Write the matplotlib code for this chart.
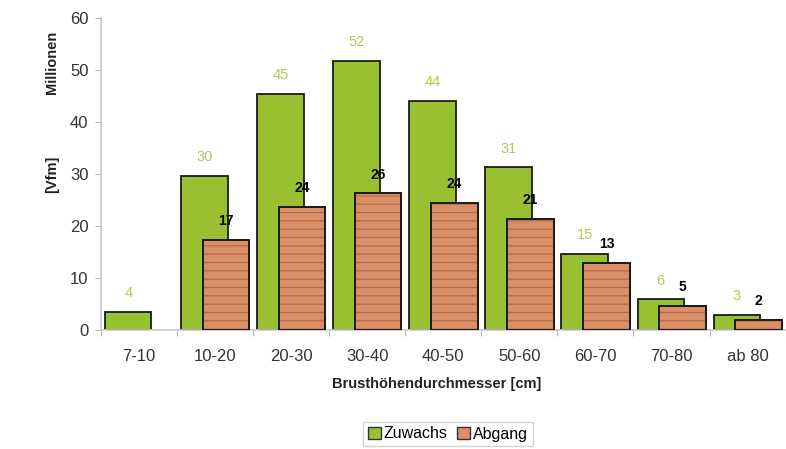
import matplotlib.pyplot as plt
from matplotlib.patches import Patch

plt.rcParams['font.family'] = ['Liberation Sans', 'DejaVu Sans']
plt.rcParams['hatch.linewidth'] = 0.9

klassen = ['7-10', '10-20', '20-30', '30-40', '40-50', '50-60', '60-70', '70-80', 'ab 80']
zuwachs = [3.5, 29.7, 45.4, 51.7, 44.1, 31.3, 14.6, 5.9, 2.9]
abgang = [None, 17.3, 23.7, 26.3, 24.4, 21.4, 12.9, 4.6, 1.9]

gruen = '#99c031'
braun = '#d98f68'
holz = '#b96a45'
label_gruen = '#b4c85a'

fig = plt.figure(figsize=(7.86, 4.49), dpi=100)
ax = fig.add_axes([0.1285, 0.265, 0.871, 0.695])

w = 0.61
for i, (z, a) in enumerate(zip(zuwachs, abgang)):
    ax.bar(i - 0.447, z, w, align='edge', color=gruen, edgecolor='#1a1a1a', linewidth=1.3, zorder=2)
    ax.text(i - 0.447 + w / 2, z + 3.6, '%.0f' % z, ha='center', va='center',
            fontsize=10.5, color=label_gruen)
    if a is None:
        continue
    ax.bar(i - 0.16, a, w, align='edge', color=braun, edgecolor='#1a1a1a', linewidth=1.3, zorder=3)
    # holzartige Maserung
    ax.bar(i - 0.16, a, w, align='edge', color='none', edgecolor=holz, hatch='--', linewidth=0, zorder=3)
    ax.bar(i - 0.16, a, w, align='edge', color='none', edgecolor='#1a1a1a', linewidth=1.3, zorder=4)
    ax.text(i - 0.16 + w / 2, a + 3.6, '%.0f' % a, ha='center', va='center',
            fontsize=10, fontweight='bold', color='black', zorder=5)

ax.set_xlim(-0.5, 8.5)
ax.set_ylim(0, 60)
ax.set_yticks(range(0, 61, 10))
ax.set_xticks([i - 0.5 for i in range(len(klassen) + 1)])
ax.set_xticklabels([])
ax.set_xticks(range(len(klassen)), minor=True)
ax.set_xticklabels(klassen, minor=True)
ax.tick_params(axis='x', which='minor', length=0, pad=14, labelsize=12, labelcolor='#333333')
ax.tick_params(axis='x', which='major', length=4, color='#bbbbbb')
ax.tick_params(axis='y', length=4, color='#bbbbbb', labelsize=12, labelcolor='#333333', pad=5)

for s in ['top', 'right']:
    ax.spines[s].set_visible(False)
for s in ['left', 'bottom']:
    ax.spines[s].set_color('#c8c8c8')
    ax.spines[s].set_linewidth(1.2)

fig.text(52 / 786, 1 - 62 / 449, 'Millionen', rotation=90, ha='center', va='center',
         fontsize=10.5, fontweight='bold', color='#222222')
fig.text(52 / 786, 1 - 174 / 449, '[Vfm]', rotation=90, ha='center', va='center',
         fontsize=10.5, fontweight='bold', color='#222222')
fig.text(437 / 786, 1 - 384 / 449, 'Brusthöhendurchmesser [cm]', ha='center', va='center',
         fontsize=10.5, fontweight='bold', color='#222222')

handles = [Patch(facecolor=gruen, edgecolor='#333333', label='Zuwachs'),
           Patch(facecolor=braun, edgecolor='#333333', label='Abgang')]
leg = fig.legend(handles=handles, loc='center', bbox_to_anchor=(448 / 786, 1 - 434 / 449),
                 ncol=2, frameon=True, fancybox=False, fontsize=11.5, handlelength=0.8,
                 handleheight=0.8, handletextpad=0.2, columnspacing=0.6, borderpad=0.3)
leg.get_frame().set_edgecolor('#c8c8c8')
leg.get_frame().set_linewidth(1.0)

fig.savefig('out.png', dpi=100)
